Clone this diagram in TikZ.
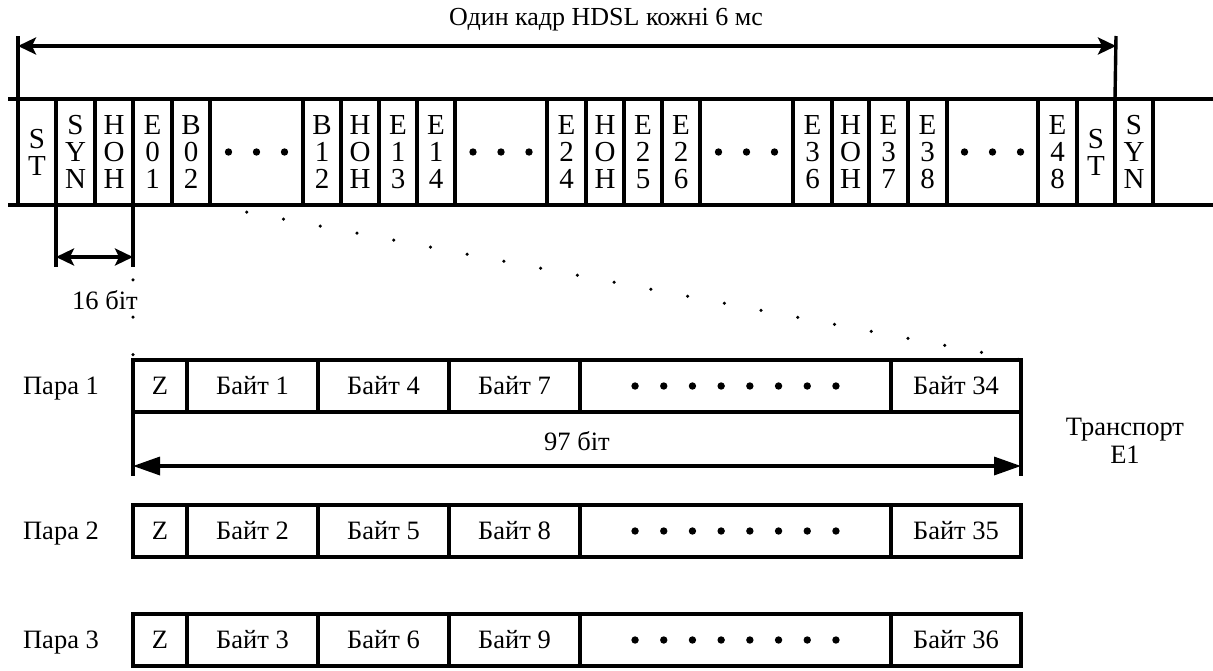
\documentclass[tikz,border=0pt]{standalone}
\usepackage{fontspec}
\setmainfont{Liberation Serif}
\usetikzlibrary{arrows.meta}
\begin{document}
\begin{tikzpicture}[x=1pt,y=-1pt,
  every node/.style={inner sep=0pt,outer sep=0pt},
  thickline/.style={line width=3.4pt},
  cell/.style={draw,line width=3.4pt,minimum height=106pt,anchor=west,align=center,font=\fontsize{29}{27}\selectfont},
  pcell/.style={draw,line width=3.4pt,minimum height=52pt,anchor=west,font=\fontsize{26.5}{30}\selectfont},
  lbl/.style={font=\fontsize{26.5}{28}\selectfont,align=center},
  dotline/.style={line width=3.5pt,line cap=round,dash pattern=on 0pt off 37.4pt},
  arrS/.style={line width=3.4pt,{Stealth[length=18pt,width=17pt,inset=4pt]}-{Stealth[length=18pt,width=17pt,inset=4pt]}},
  arrT/.style={line width=3.4pt,{Triangle[length=27pt,width=18pt]}-{Triangle[length=27pt,width=18pt]}}
]
\useasboundingbox (0,0) rectangle (1213,670);

% frame lines
\coordinate (fl1) at (8,99);   \coordinate (fr1) at (1213,99);
\coordinate (fl2) at (8,205);  \coordinate (fr2) at (1213,205);
\draw[thickline] (fl1) -- (fr1);
\draw[thickline] (fl2) -- (fr2);

% frame cells
\node[cell,minimum width=38pt] (st1)  at (18,152)  {S\\T};
\node[cell,minimum width=39pt] (syn1) at (56,152)  {S\\Y\\N};
\node[cell,minimum width=38pt] (hoh1) at (95,152)  {H\\O\\H};
\node[cell,minimum width=39pt] (e01)  at (133,152) {E\\0\\1};
\node[cell,minimum width=38pt] (b02)  at (172,152) {B\\0\\2};
\node[cell,minimum width=93pt] (d1)   at (210,152) {};
\node[cell,minimum width=38pt] (b12)  at (303,152) {B\\1\\2};
\node[cell,minimum width=38pt] (hoh2) at (341,152) {H\\O\\H};
\node[cell,minimum width=38pt] (e13)  at (379,152) {E\\1\\3};
\node[cell,minimum width=38pt] (e14)  at (417,152) {E\\1\\4};
\node[cell,minimum width=92pt] (d2)   at (455,152) {};
\node[cell,minimum width=39pt] (e24)  at (547,152) {E\\2\\4};
\node[cell,minimum width=38pt] (hoh3) at (586,152) {H\\O\\H};
\node[cell,minimum width=38pt] (e25)  at (624,152) {E\\2\\5};
\node[cell,minimum width=38pt] (e26)  at (662,152) {E\\2\\6};
\node[cell,minimum width=93pt] (d3)   at (700,152) {};
\node[cell,minimum width=39pt] (e36)  at (793,152) {E\\3\\6};
\node[cell,minimum width=37pt] (hoh4) at (832,152) {H\\O\\H};
\node[cell,minimum width=39pt] (e37)  at (869,152) {E\\3\\7};
\node[cell,minimum width=39pt] (e38)  at (908,152) {E\\3\\8};
\node[cell,minimum width=91pt] (d4)   at (947,152) {};
\node[cell,minimum width=39pt] (e48)  at (1038,152) {E\\4\\8};
\node[cell,minimum width=38pt] (st2)  at (1077,152) {S\\T};
\node[cell,minimum width=38pt] (syn2) at (1115,152) {S\\Y\\N};

\foreach \n in {d1,d2,d3,d4}
  \foreach \k in {-1,0,1}
    \fill ([xshift=\k*28pt]\n.center) circle (3.7pt);

% top arrow
\coordinate (tl) at (18,36);  \coordinate (tr) at (1116,36);
\coordinate (al) at (18,46);  \coordinate (ar) at (1116,46);
\draw[thickline] (tl) -- (st1.north west);
\draw[thickline] (tr) -- (st2.north east);
\draw[arrS] (al) -- (ar);
\node[font=\fontsize{26}{28}\selectfont] (title) at (606,20) {Один кадр HDSL кожні 6 мс};

% 16 bit
\coordinate (s1) at (56,267); \coordinate (s2) at (133,267);
\coordinate (sa1) at (56,257); \coordinate (sa2) at (133,257);
\draw[thickline] (syn1.south west) -- (s1);
\draw[thickline] (e01.south west) -- (s2);
\draw[arrS] (sa1) -- (sa2);
\node[lbl] (b16) at (105,300) {16 біт};

% pair rows
\foreach \r/\y/\a/\b/\c/\e in {1/386/1/4/7/34,2/531/2/5/8/35,3/640/3/6/9/36}{
  \node[lbl] (p\r) at (61,\y+3) {Пара \r};
  \node[pcell,minimum width=54pt]  (r\r z) at (133,\y) {Z};
  \node[pcell,minimum width=131pt] (r\r a) at (187,\y) {Байт \a};
  \node[pcell,minimum width=131pt] (r\r b) at (318,\y) {Байт \b};
  \node[pcell,minimum width=131pt] (r\r c) at (449,\y) {Байт \c};
  \node[pcell,minimum width=311pt] (r\r d) at (580,\y) {};
  \node[pcell,minimum width=130pt] (r\r e) at (891,\y) {Байт \e};
  \foreach \k in {0,...,7}
    \fill ([xshift={(\k-3.5)*28.7pt}]r\r d.center) circle (3.7pt);
}

% dotted zoom lines
\draw[dotline] (e01.south west) -- (r1z.north west);
\draw[dotline] (d1.south west) -- (r1e.north east);

% 97 bit
\coordinate (q1) at (133,476); \coordinate (q2) at (1021,476);
\coordinate (qa1) at (133,466); \coordinate (qa2) at (1021,466);
\draw[thickline] (r1z.south west) -- (q1);
\draw[thickline] (r1e.south east) -- (q2);
\draw[arrT] (qa1) -- (qa2);
\node[lbl] (b97) at (577,441) {97 біт};

\node[lbl] (tr1) at (1125,441) {Транспорт\\E1};
\end{tikzpicture}
\end{document}
